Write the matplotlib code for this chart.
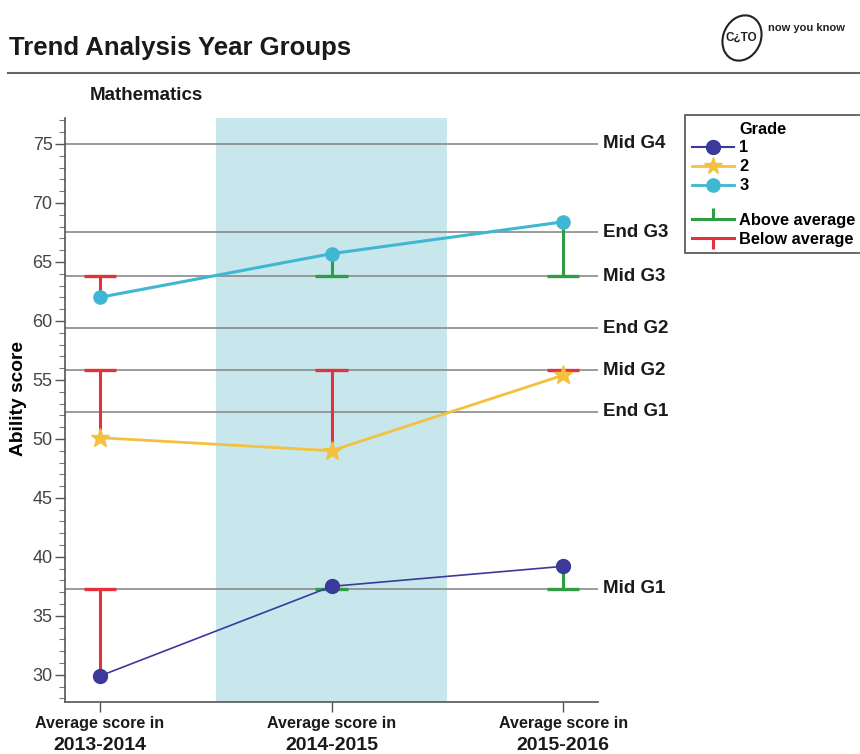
import matplotlib.pyplot as plt
from matplotlib.lines import Line2D
from matplotlib.patches import Ellipse
from matplotlib.path import Path
import numpy as np

plt.rcParams['font.family'] = ['Liberation Sans', 'DejaVu Sans']

# data
years = ['2013-2014', '2014-2015', '2015-2016']
grades = ['1', '2', '3']
scores = {
    '1': [29.9, 37.5, 39.2],
    '2': [50.1, 49.0, 55.4],
    '3': [62.0, 65.7, 68.4],
}
mid_ref = {'1': 37.3, '2': 55.8, '3': 63.8}
ref_names = ['Mid G4', 'End G3', 'Mid G3', 'End G2', 'Mid G2', 'End G1', 'Mid G1']
ref_values = [75.0, 67.5, 63.8, 59.4, 55.8, 52.3, 37.3]

colors = {'1': '#3b3a9a', '2': '#f4c13e', '3': '#3fb6d2'}
markers = {'1': 'o', '2': '*', '3': 'o'}
msizes = {'1': 10, '2': 14, '3': 9.5}
lwidths = {'1': 1.2, '2': 2.0, '3': 2.2}
green = '#2e9e45'
red = '#e3323c'

fig = plt.figure(figsize=(8.6, 7.54), dpi=100)
ax = fig.add_axes([65 / 860, 52 / 754, 533 / 860, 584 / 754])

x = np.arange(len(years))
ax.axvspan(0.5, 1.5, color='#c8e7ed', zorder=0, lw=0)

for name, val in zip(ref_names, ref_values):
    ax.axhline(val, color='#8a8a8a', lw=1.2, zorder=1)
    ax.text(1.009, val, name, transform=ax.get_yaxis_transform(), ha='left',
            va='center', fontsize=13.5, fontweight='bold', color='#1a1a1a')

cap = 0.07
for g in grades:
    ref = mid_ref[g]
    for xi, v in zip(x, scores[g]):
        c = green if v >= ref else red
        ax.vlines(xi, v, ref, color=c, lw=2.2, zorder=2)
        ax.hlines(ref, xi - cap, xi + cap, color=c, lw=2.4, zorder=2)

for g in grades:
    ax.plot(x, scores[g], color=colors[g], lw=lwidths[g], marker=markers[g],
            ms=msizes[g], zorder=3)

ax.set_xlim(-0.15, 2.15)
ax.set_ylim(27.7, 77.2)
ax.set_yticks([30, 35, 40, 45, 50, 55, 60, 65, 70, 75])
ax.set_yticks(np.arange(28, 78, 1), minor=True)
ax.set_xticks(x)
ax.set_xticklabels([])
ax.tick_params(axis='y', which='major', length=7, width=1, color='#555', labelsize=13,
               labelcolor='#444', pad=2)
ax.tick_params(axis='y', which='minor', length=4, width=0.8, color='#777')
ax.tick_params(axis='x', length=7, width=1, color='#555')
for s in ['top', 'right']:
    ax.spines[s].set_visible(False)
for s in ['left', 'bottom']:
    ax.spines[s].set_color('#555')
    ax.spines[s].set_linewidth(1.2)

for xi, yr in zip(x, years):
    ax.text(xi, -0.036, 'Average score in', transform=ax.get_xaxis_transform(),
            ha='center', va='center', fontsize=11.6, fontweight='bold', color='#1a1a1a')
    ax.text(xi, -0.074, yr, transform=ax.get_xaxis_transform(),
            ha='center', va='center', fontsize=14, fontweight='bold', color='#1a1a1a')

ax.set_ylabel('Ability score', fontsize=13.8, fontweight='bold')
ax.yaxis.set_label_coords(-0.072, 0.52)

# header
fig.text(9 / 860, 1 - 48 / 754, 'Trend Analysis Year Groups', fontsize=18.5,
         fontweight='bold', va='center', ha='left', color='#1a1a1a')
fig.add_artist(Line2D([8 / 860, 1], [1 - 73 / 754] * 2, color='#666', lw=1.5))
fig.text(90 / 860, 1 - 95 / 754, 'Mathematics', fontsize=13.5, fontweight='bold',
         va='center', ha='left', color='#1a1a1a')
fig.add_artist(Ellipse((742 / 860, 1 - 38 / 754), 38 / 860, 46 / 754, angle=-15,
                       fill=False, ec='#222', lw=1.5))
fig.text(741 / 860, 1 - 38 / 754, 'C¿TO', fontsize=8.5, fontweight='bold',
         ha='center', va='center', color='#222')
fig.text(768 / 860, 1 - 28 / 754, 'now you know', fontsize=8, fontweight='bold',
         ha='left', va='center', color='#222')

# legend
up_tick = Path([(0, 0), (0, 1)])
down_tick = Path([(0, 0), (0, -1)])
handles = [
    Line2D([], [], color='none'),
    Line2D([], [], color=colors['1'], lw=1.5, marker='o', ms=10),
    Line2D([], [], color=colors['2'], lw=2, marker='*', ms=13),
    Line2D([], [], color=colors['3'], lw=2, marker='o', ms=9.5),
    Line2D([], [], color='none'),
    Line2D([], [], color=green, lw=2.2, marker=up_tick, ms=16, mew=2.2),
    Line2D([], [], color=red, lw=2.2, marker=down_tick, ms=16, mew=2.2),
]
labels = ['Grade', '1', '2', '3', '', 'Above average', 'Below average']
leg = fig.legend(handles, labels, loc='upper left',
                 bbox_to_anchor=(685 / 860, 1 - 115 / 754), borderaxespad=0,
                 frameon=True, fancybox=False, edgecolor='#222', handlelength=2.6,
                 handletextpad=0.3, labelspacing=0.24, borderpad=0.4,
                 handleheight=0.5, prop={'weight': 'bold', 'size': 11.8}, numpoints=1)
leg.get_frame().set_linewidth(1.2)
leg.get_texts()[4].set_fontsize(3)

fig.savefig('out.png', dpi=100)
